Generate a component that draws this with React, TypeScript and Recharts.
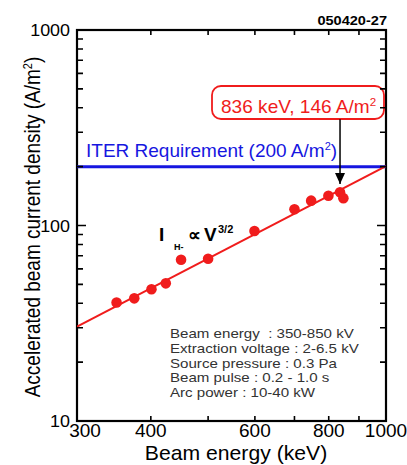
import { ComposedChart, XAxis, YAxis, Scatter, Line, ReferenceLine, ReferenceDot } from 'recharts'

// beam energy (keV) vs accelerated H- current density (A/m2)
const ENERGY = [350, 375, 401, 424, 450, 500, 599, 700, 747, 799, 836, 847]
const DENSITY = [40.4, 42.4, 47.2, 50.6, 66.8, 67.6, 93.8, 121, 134, 142, 148, 138]

// I ∝ V^(3/2) fit, drawn between the axis ends
const FIT_ENERGY = [300, 1000]
const FIT_DENSITY = [30.4, 201]

const ITER_REQUIREMENT = 200
const PEAK_ENERGY = 836
const PEAK_DENSITY = 146
const ARROW_FROM = 350
const ARROW_TO = 163

const X_TICKS = [300, 400, 500, 600, 700, 800, 900, 1000]
const X_LABELS = [300, 400, 600, 800, 1000]
const Y_TICKS = [10, 20, 30, 40, 50, 60, 70, 80, 90, 100, 200, 300, 400, 500, 600, 700, 800, 900, 1000]
const Y_LABELS = [10, 100, 1000]

const CONDITIONS = [
  'Beam energy\u00a0 : 350-850 kV',
  'Extraction voltage : 2-6.5 kV',
  'Source pressure : 0.3 Pa',
  'Beam pulse : 0.2 - 1.0 s',
  'Arc power : 10-40 kW',
]

const points = ENERGY.map((e, i) => ({ e, j: DENSITY[i] }))
const fit = FIT_ENERGY.map((e, i) => ({ e, j: FIT_DENSITY[i] }))

const W = 407
const H = 465
const PLOT = { left: 77, top: 30, right: 386, bottom: 421 }
const FONT = '"Liberation Sans", Arial, sans-serif'
const RED = '#f01c1c'
const BLUE = '#1616e0'

function SText({
  x,
  y,
  sx = 1,
  anchor = 'start',
  size,
  weight = 'normal',
  fill = '#000',
  children,
}: {
  x: number
  y: number
  sx?: number
  anchor?: 'start' | 'middle' | 'end'
  size: number
  weight?: string
  fill?: string
  children: React.ReactNode
}) {
  return (
    <g transform={`translate(${x} ${y}) scale(${sx} 1)`}>
      <text x={0} y={0} textAnchor={anchor} fontSize={size} fontWeight={weight} fill={fill} fontFamily={FONT}>
        {children}
      </text>
    </g>
  )
}

// ticks point inwards, mirrored on the top edge
function XTick({ x, payload }: { x: number; payload: { value: number } }) {
  const v = payload.value
  return (
    <g>
      <path
        d={`M${x},${PLOT.bottom} V${PLOT.bottom - 5} M${x},${PLOT.top} V${PLOT.top + 5}`}
        stroke="#000"
        strokeWidth={1.6}
        fill="none"
      />
      {X_LABELS.includes(v) && (
        <SText x={x + (v === 300 ? 8 : 0)} y={437} anchor="middle" size={19}>
          {v}
        </SText>
      )}
    </g>
  )
}

// ticks point inwards, mirrored on the right edge
function YTick({ y, payload }: { y: number; payload: { value: number } }) {
  const v = payload.value
  const major = Y_LABELS.includes(v)
  const len = major ? 9 : 6
  return (
    <g>
      <path
        d={`M${PLOT.left},${y} H${PLOT.left + len} M${PLOT.right},${y} H${PLOT.right - len}`}
        stroke="#000"
        strokeWidth={1.6}
        fill="none"
      />
      {major && (
        <SText x={70} y={y + 6} anchor="end" size={16} sx={1.12}>
          {v}
        </SText>
      )}
    </g>
  )
}

export default function App() {
  return (
    <div style={{ position: 'absolute', left: 0, top: 0, width: W, height: H, background: '#fff' }}>
      <ComposedChart
        width={W}
        height={H}
        margin={{ top: PLOT.top, right: W - PLOT.right, left: 0, bottom: 0 }}
      >
        <XAxis
          type="number"
          dataKey="e"
          scale="log"
          domain={[300, 1000]}
          ticks={X_TICKS}
          interval={0}
          allowDataOverflow
          height={H - PLOT.bottom}
          axisLine={false}
          tickLine={false}
          tickSize={0}
          tickMargin={0}
          tick={(p: any) => <XTick {...p} />}
        />
        <YAxis
          type="number"
          scale="log"
          domain={[10, 1000]}
          ticks={Y_TICKS}
          interval={0}
          allowDataOverflow
          width={PLOT.left}
          axisLine={false}
          tickLine={false}
          tickSize={0}
          tickMargin={0}
          tick={(p: any) => <YTick {...p} />}
        />
        <ReferenceLine y={ITER_REQUIREMENT} stroke={BLUE} strokeWidth={3} />
        <Line
          data={fit}
          dataKey="j"
          stroke={RED}
          strokeWidth={2}
          dot={false}
          isAnimationActive={false}
        />
        <Scatter
          data={points}
          dataKey="j"
          isAnimationActive={false}
          shape={(p: any) => <circle cx={p.cx} cy={p.cy} r={5.3} fill={RED} />}
        />
        <ReferenceLine
          segment={[
            { x: PEAK_ENERGY, y: ARROW_FROM },
            { x: PEAK_ENERGY, y: ARROW_TO },
          ]}
          stroke="#000"
          strokeWidth={1.5}
        />
        <ReferenceDot
          x={PEAK_ENERGY}
          y={ARROW_TO}
          shape={(p: any) => (
            <path d={`M${p.cx - 5},${p.cy - 11} L${p.cx + 5},${p.cy - 11} L${p.cx},${p.cy} Z`} fill="#000" />
          )}
        />

        <rect
          x={PLOT.left}
          y={PLOT.top}
          width={PLOT.right - PLOT.left}
          height={PLOT.bottom - PLOT.top}
          fill="none"
          stroke="#000"
          strokeWidth={2.2}
        />

        <SText x={387} y={25} anchor="end" size={13} weight="bold" sx={1.12}>
          050420-27
        </SText>

        <rect x={212} y={86} width={172} height={33} rx={9} fill="#fff" stroke={RED} strokeWidth={1.8} />
        <SText x={221} y={113} size={18} sx={1.06} fill={RED}>
          {`${PEAK_ENERGY} keV, ${PEAK_DENSITY} A/m`}
          <tspan dy={-7} fontSize={11}>2</tspan>
        </SText>

        <SText x={86} y={157} size={19} fill={BLUE}>
          {`ITER Requirement (${ITER_REQUIREMENT} A/m`}
          <tspan dy={-7} fontSize={11}>2</tspan>
          <tspan dy={7}>)</tspan>
        </SText>

        <SText x={159} y={241} size={19} weight="bold">I</SText>
        <SText x={174} y={250} size={9} weight="bold">H-</SText>
        <SText x={188} y={241} size={18} weight="bold">∝</SText>
        <SText x={204} y={241} size={19} weight="bold">V</SText>
        <SText x={218} y={233} size={11} weight="bold">3/2</SText>

        {CONDITIONS.map((line, i) => (
          <SText key={line} x={170} y={338 + i * 14.75} size={12} sx={1.26} fill="#333">
            {line}
          </SText>
        ))}

        <g transform="translate(40 227) rotate(-90) scale(1 1.2)">
          <text textAnchor="middle" fontSize={19} fontFamily={FONT} fill="#000">
            Accelerated beam current density (A/m
            <tspan dy={-7} fontSize={11}>2</tspan>
            <tspan dy={7}>)</tspan>
          </text>
        </g>
        <SText x={236} y={460} anchor="middle" size={20} sx={1.06}>
          Beam energy (keV)
        </SText>
      </ComposedChart>
    </div>
  )
}
